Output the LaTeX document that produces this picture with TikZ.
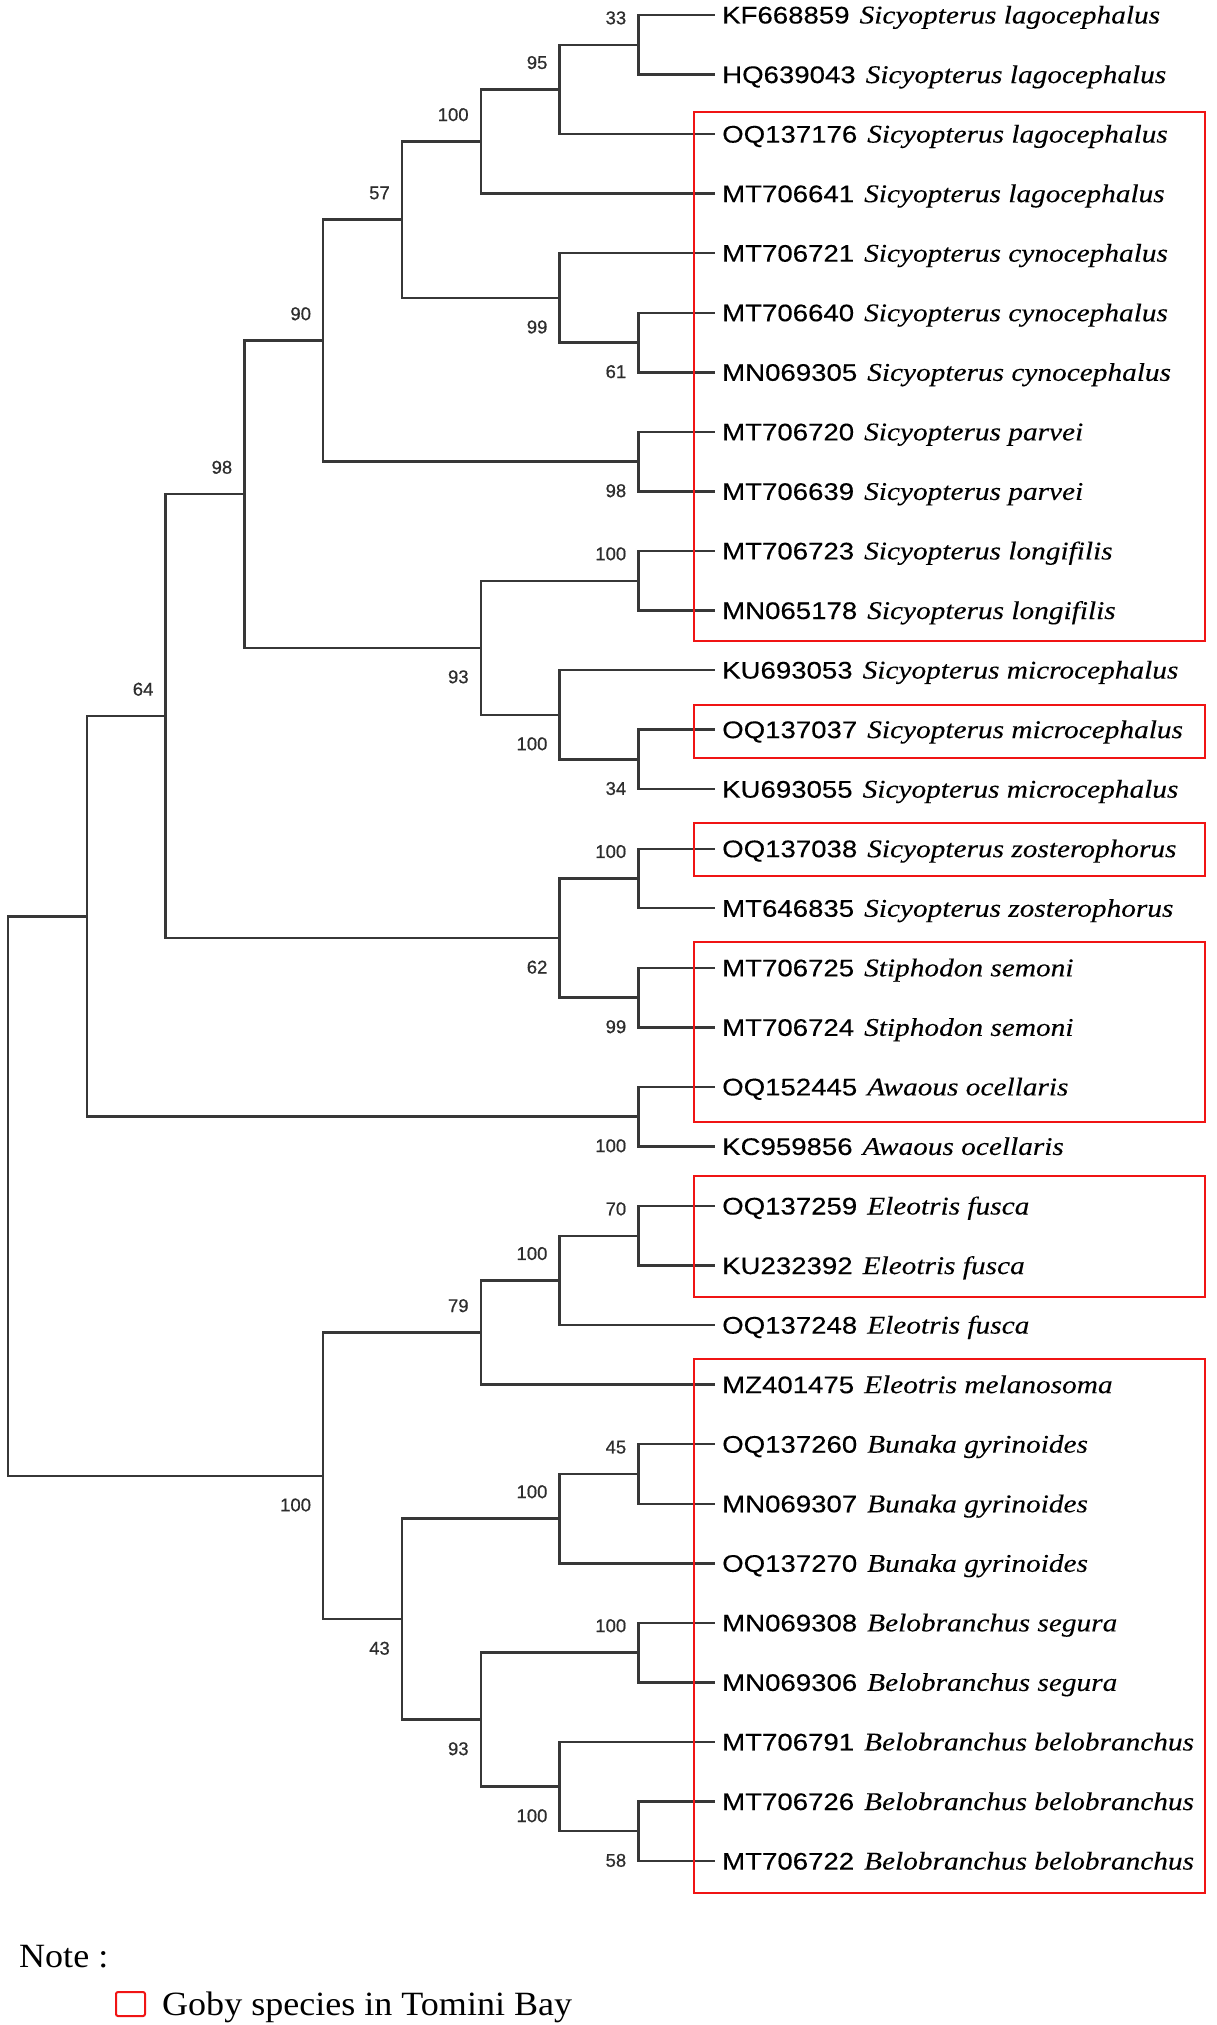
\documentclass[tikz,border=0pt]{standalone}
\usepackage{fontspec}
\newfontfamily\accfont[FakeStretch=1.15,FakeBold=0.3]{Liberation Sans}
\newfontfamily\spfont[FakeStretch=1.15,FakeBold=0.2]{Liberation Serif}
\newfontfamily\bsfont[FakeBold=0.6]{Liberation Sans}
\newfontfamily\notefont[FakeStretch=1.06]{Liberation Serif}
\definecolor{treegray}{RGB}{55,55,55}
\definecolor{bsgray}{RGB}{45,45,45}
\definecolor{boxred}{RGB}{240,20,20}
\newcommand{\lf}[2]{{\accfont\fontsize{24}{28}\selectfont #1}\hspace{10pt}{\spfont\itshape\fontsize{25.5}{30}\selectfont #2}}
\begin{document}
\begin{tikzpicture}[x=1pt,y=-1pt,
  br/.style={draw=treegray,line width=2.4pt},
  leaf/.style={anchor=west,inner sep=0pt,xshift=7pt,text height=17pt,text depth=0pt,text=black},
  bs/.style={anchor=east,inner sep=0pt,xshift=-12pt,text height=13pt,text depth=0pt,text=bsgray,font=\bsfont\fontsize{18.5}{21}\selectfont},
  up/.style={bs,yshift=27pt},
  dn/.style={bs,yshift=-29pt},
  redbox/.style={draw=boxred,line width=2.2pt}]
\useasboundingbox (0,0) rectangle (1217,2025);
% leaf tips
\foreach \i/\y in {1/15,2/74.55,3/134.1,4/193.65,5/253.2,6/312.75,7/372.3,8/431.85,9/491.4,10/550.95,11/610.5,12/670.05,13/729.6,14/789.15,15/848.7,16/908.25,17/967.8,18/1027.35,19/1086.9,20/1146.45,21/1206,22/1265.55,23/1325.1,24/1384.65,25/1444.2,26/1503.75,27/1563.3,28/1622.85,29/1682.4,30/1741.95,31/1801.5,32/1861.05}
  {\coordinate (t\i) at (715,\y);}
% leaf labels
\node[leaf] (L1) at (t1) {\lf{KF668859}{Sicyopterus lagocephalus}};
\node[leaf] (L2) at (t2) {\lf{HQ639043}{Sicyopterus lagocephalus}};
\node[leaf] (L3) at (t3) {\lf{OQ137176}{Sicyopterus lagocephalus}};
\node[leaf] (L4) at (t4) {\lf{MT706641}{Sicyopterus lagocephalus}};
\node[leaf] (L5) at (t5) {\lf{MT706721}{Sicyopterus cynocephalus}};
\node[leaf] (L6) at (t6) {\lf{MT706640}{Sicyopterus cynocephalus}};
\node[leaf] (L7) at (t7) {\lf{MN069305}{Sicyopterus cynocephalus}};
\node[leaf] (L8) at (t8) {\lf{MT706720}{Sicyopterus parvei}};
\node[leaf] (L9) at (t9) {\lf{MT706639}{Sicyopterus parvei}};
\node[leaf] (L10) at (t10) {\lf{MT706723}{Sicyopterus longifilis}};
\node[leaf] (L11) at (t11) {\lf{MN065178}{Sicyopterus longifilis}};
\node[leaf] (L12) at (t12) {\lf{KU693053}{Sicyopterus microcephalus}};
\node[leaf] (L13) at (t13) {\lf{OQ137037}{Sicyopterus microcephalus}};
\node[leaf] (L14) at (t14) {\lf{KU693055}{Sicyopterus microcephalus}};
\node[leaf] (L15) at (t15) {\lf{OQ137038}{Sicyopterus zosterophorus}};
\node[leaf] (L16) at (t16) {\lf{MT646835}{Sicyopterus zosterophorus}};
\node[leaf] (L17) at (t17) {\lf{MT706725}{Stiphodon semoni}};
\node[leaf] (L18) at (t18) {\lf{MT706724}{Stiphodon semoni}};
\node[leaf] (L19) at (t19) {\lf{OQ152445}{Awaous ocellaris}};
\node[leaf] (L20) at (t20) {\lf{KC959856}{Awaous ocellaris}};
\node[leaf] (L21) at (t21) {\lf{OQ137259}{Eleotris fusca}};
\node[leaf] (L22) at (t22) {\lf{KU232392}{Eleotris fusca}};
\node[leaf] (L23) at (t23) {\lf{OQ137248}{Eleotris fusca}};
\node[leaf] (L24) at (t24) {\lf{MZ401475}{Eleotris melanosoma}};
\node[leaf] (L25) at (t25) {\lf{OQ137260}{Bunaka gyrinoides}};
\node[leaf] (L26) at (t26) {\lf{MN069307}{Bunaka gyrinoides}};
\node[leaf] (L27) at (t27) {\lf{OQ137270}{Bunaka gyrinoides}};
\node[leaf] (L28) at (t28) {\lf{MN069308}{Belobranchus segura}};
\node[leaf] (L29) at (t29) {\lf{MN069306}{Belobranchus segura}};
\node[leaf] (L30) at (t30) {\lf{MT706791}{Belobranchus belobranchus}};
\node[leaf] (L31) at (t31) {\lf{MT706726}{Belobranchus belobranchus}};
\node[leaf] (L32) at (t32) {\lf{MT706722}{Belobranchus belobranchus}};
% internal nodes
\coordinate (n33) at (638.4,44.775);
\coordinate (n95) at (559.6,89.44);
\coordinate (n100a) at (480.8,141.54);
\coordinate (n61) at (638.4,342.525);
\coordinate (n99a) at (559.6,297.86);
\coordinate (n57) at (402,219.7);
\coordinate (n98a) at (638.4,461.625);
\coordinate (n90) at (323.2,340.66);
\coordinate (n100b) at (638.4,580.725);
\coordinate (n34) at (638.4,759.375);
\coordinate (n100c) at (559.6,714.71);
\coordinate (n93a) at (480.8,647.72);
\coordinate (n98b) at (244.4,494.19);
\coordinate (n100d) at (638.4,878.475);
\coordinate (n99b) at (638.4,997.575);
\coordinate (n62) at (559.6,938.025);
\coordinate (n98c) at (165.6,716.1);
\coordinate (n100e) at (638.4,1116.675);
\coordinate (n64) at (86.8,916.39);
\coordinate (n70) at (638.4,1235.775);
\coordinate (n100f) at (559.6,1280.44);
\coordinate (n79) at (480.8,1332.545);
\coordinate (n45) at (638.4,1473.975);
\coordinate (n100g) at (559.6,1518.64);
\coordinate (n100h) at (638.4,1652.625);
\coordinate (n58) at (638.4,1831.275);
\coordinate (n100i) at (559.6,1786.61);
\coordinate (n93b) at (480.8,1719.62);
\coordinate (n43) at (402,1619.13);
\coordinate (n100j) at (323.2,1475.84);
\coordinate (root) at (8,1196.1);
% branches
\foreach \p/\c in {n33/t1,n33/t2,n95/n33,n95/t3,n100a/n95,n100a/t4,
  n61/t6,n61/t7,n99a/t5,n99a/n61,n57/n100a,n57/n99a,
  n98a/t8,n98a/t9,n90/n57,n90/n98a,
  n100b/t10,n100b/t11,n34/t13,n34/t14,n100c/t12,n100c/n34,n93a/n100b,n93a/n100c,
  n98b/n90,n98b/n93a,
  n100d/t15,n100d/t16,n99b/t17,n99b/t18,n62/n100d,n62/n99b,
  n98c/n98b,n98c/n62,n100e/t19,n100e/t20,n64/n98c,n64/n100e,
  n70/t21,n70/t22,n100f/n70,n100f/t23,n79/n100f,n79/t24,
  n45/t25,n45/t26,n100g/n45,n100g/t27,
  n100h/t28,n100h/t29,n58/t31,n58/t32,n100i/t30,n100i/n58,
  n93b/n100h,n93b/n100i,n43/n100g,n43/n93b,
  n100j/n79,n100j/n43,root/n64,root/n100j}
  {\draw[br] (\p) |- (\c);}
% bootstrap values
\node[up] (b33) at (n33) {33};
\node[up] (b95) at (n95) {95};
\node[up] (b100a) at (n100a) {100};
\node[up] (b57) at (n57) {57};
\node[up] (b90) at (n90) {90};
\node[up] (b98b) at (n98b) {98};
\node[up] (b64) at (n98c) {64};
\node[up] (b100b) at (n100b) {100};
\node[up] (b100d) at (n100d) {100};
\node[up] (b70) at (n70) {70};
\node[up] (b100f) at (n100f) {100};
\node[up] (b79) at (n79) {79};
\node[up] (b45) at (n45) {45};
\node[up] (b100g) at (n100g) {100};
\node[up] (b100h) at (n100h) {100};
\node[dn] (b61) at (n61) {61};
\node[dn] (b99a) at (n99a) {99};
\node[dn] (b98a) at (n98a) {98};
\node[dn] (b93a) at (n93a) {93};
\node[dn] (b100c) at (n100c) {100};
\node[dn] (b34) at (n34) {34};
\node[dn] (b62) at (n62) {62};
\node[dn] (b99b) at (n99b) {99};
\node[dn] (b100e) at (n100e) {100};
\node[dn] (b100j) at (n100j) {100};
\node[dn] (b43) at (n43) {43};
\node[dn] (b93b) at (n93b) {93};
\node[dn] (b100i) at (n100i) {100};
\node[dn] (b58) at (n58) {58};
% red boxes
\draw[redbox] (694,112) rectangle (1205,641);
\draw[redbox] (694,705) rectangle (1205,758);
\draw[redbox] (694,823) rectangle (1205,876);
\draw[redbox] (694,942) rectangle (1205,1122);
\draw[redbox] (694,1176) rectangle (1205,1297);
\draw[redbox] (694,1359) rectangle (1205,1893);
% legend
\node[anchor=base west,inner sep=0pt] (note) at (19,1967) {\notefont\fontsize{34}{40}\selectfont Note :};
\draw[draw=boxred,line width=2pt,rounded corners=2pt] (116,1992) rectangle (145,2016);
\node[anchor=base west,inner sep=0pt] (legtext) at (162,2015) {\notefont\fontsize{34}{40}\selectfont Goby species in Tomini Bay};
\end{tikzpicture}
\end{document}
